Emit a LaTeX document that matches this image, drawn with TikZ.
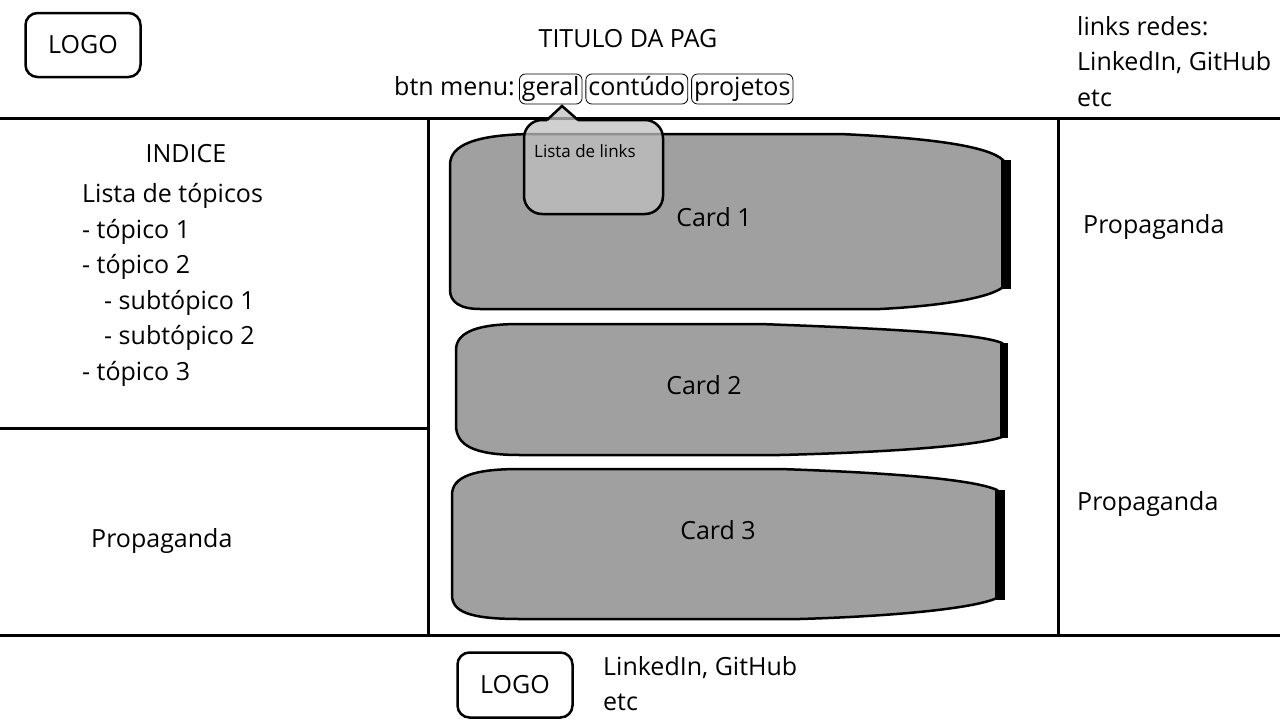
\documentclass[tikz,border=0pt]{standalone}
\usepackage{fontspec}
\setmainfont{Open Sans}
\usepackage{tikz}
\usetikzlibrary{positioning}
\definecolor{cardgray}{RGB}{160,160,160}
\definecolor{popgray}{RGB}{192,192,192}
\tikzset{
	txt/.style={font=\fontsize{25}{30}\selectfont, inner sep=0pt, anchor=base west},
	small/.style={font=\fontsize{17}{20}\selectfont, inner sep=0pt, anchor=base west},
	logobox/.style={draw, line width=2.5pt, rounded corners=12pt, font=\fontsize{25}{30}\selectfont},
	btn/.style={draw, line width=0.8pt, rounded corners=6pt, font=\fontsize{25}{30}\selectfont, text height=18pt, text depth=6pt, inner xsep=2.5pt, inner ysep=3pt},
	frame/.style={line width=3pt},
	card/.style={fill=cardgray, draw=black, line width=2.5pt},
	popup/.style={fill=popgray, fill opacity=0.75, draw=black, line width=2.5pt}
}

\begin{document}
\begin{tikzpicture}[x=1pt, y=-1pt]
	\useasboundingbox (0,0) rectangle (1280,720);

	\draw[frame] (0,118) -- (1280,118);
	\draw[frame] (0,635) -- (1280,635);
	\draw[frame] (428,118) -- (428,635);
	\draw[frame] (1058,118) -- (1058,635);
	\draw[frame] (0,428) -- (430,428);

	\node[logobox, minimum width=115pt, minimum height=64pt] (logotop) at (83,45) {LOGO};
	\node[txt, anchor=base] (titulo) at (628,47.5) {TITULO DA PAG};
	\node[txt] (menu) at (394,95) {btn menu:};
	\node[btn, base right=4pt of menu] (geral) {geral};
	\node[btn, base right=3pt of geral] (conteudo) {contúdo};
	\node[btn, base right=3pt of conteudo] (projetos) {projetos};

	\node[txt] (redes) at (1077,35) {links redes:};
	\node[txt] (redes2) at (1077,70.5) {LinkedIn, GitHub};
	\node[txt] (redes3) at (1077,106) {etc};

	\node[txt, anchor=base] (indice) at (186,162) {INDICE};
	\node[txt] (lista) at (82,202.5) {Lista de tópicos};
	\node[txt] (top1) at (82,238) {- tópico 1};
	\node[txt] (top2) at (82,273.5) {- tópico 2};
	\node[txt] (sub1) at (104,309) {- subtópico 1};
	\node[txt] (sub2) at (104,344.5) {- subtópico 2};
	\node[txt] (top3) at (82,380) {- tópico 3};
	\node[txt] (propleft) at (91,547) {Propaganda};

	\node[txt] (propright1) at (1083,233) {Propaganda};
	\node[txt] (propright2) at (1077,510) {Propaganda};

	\filldraw[card] (450,290) -- (450,165) .. controls (450,145) and (475,135) .. (530,134) -- (840,134) .. controls (930,138) and (988,146) .. (1003,160) -- (1003,287) .. controls (990,298) and (940,306) .. (880,309) -- (480,309) .. controls (460,309) and (450,302) .. (450,290) -- cycle;
	\fill (1001,160) rectangle (1011,289);
	\node[txt, anchor=base] (card1) at (714,226) {Card 1};

	\filldraw[card] (456,425) -- (456,350) .. controls (456,331) and (480,324) .. (520,324) -- (760,324) .. controls (900,329) and (980,334) .. (1002,343) -- (1002,437) .. controls (980,445) and (900,452) .. (780,455) -- (520,455) .. controls (475,455) and (456,446) .. (456,425) -- cycle;
	\fill (1000,343) rectangle (1008,438);
	\node[txt, anchor=base] (card2) at (704,394) {Card 2};

	\filldraw[card] (452,595) -- (452,495) .. controls (452,476) and (475,469) .. (520,469) -- (780,469) .. controls (900,473) and (975,480) .. (997,490) -- (997,598) .. controls (975,608) and (900,616) .. (800,619) -- (520,619) .. controls (470,619) and (452,612) .. (452,595) -- cycle;
	\fill (995,490) rectangle (1005,600);
	\node[txt, anchor=base] (card3) at (718,539) {Card 3};

	\fill[popup, draw=none] (547,120) -- (562,106) -- (578,120) -- cycle;
	\fill[popup, draw=none, rounded corners=18pt] (524,120) rectangle (663,214);
	\draw[line width=2.5pt, rounded corners=18pt] (578,120) -- (663,120) -- (663,214) -- (524,214) -- (524,120) -- (547,120);
	\draw[line width=2.5pt] (547,120) -- (562,106) -- (578,120);
	\node[small] (links) at (534,157) {Lista de links};

	\node[logobox, minimum width=115pt, minimum height=65pt] (logobottom) at (515,685) {LOGO};
	\node[txt] (rodape) at (603,675) {LinkedIn, GitHub};
	\node[txt] (rodape2) at (603,710.5) {etc};
\end{tikzpicture}
\end{document}
